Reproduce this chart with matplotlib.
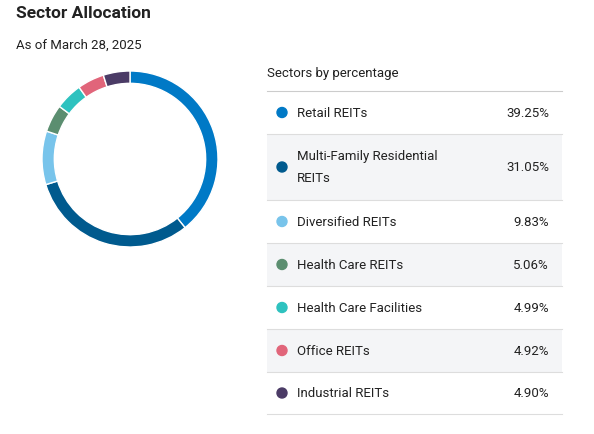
import matplotlib
matplotlib.use("Agg")
import matplotlib.pyplot as plt
from matplotlib.patches import Rectangle, Circle

plt.rcParams['font.family'] = ['Roboto', 'DejaVu Sans']

sectors = ["Retail REITs", "Multi-Family Residential\nREITs", "Diversified REITs",
           "Health Care REITs", "Health Care Facilities", "Office REITs", "Industrial REITs"]
values = [39.25, 31.05, 9.83, 5.06, 4.99, 4.92, 4.90]
labels = ["39.25%", "31.05%", "9.83%", "5.06%", "4.99%", "4.92%", "4.90%"]
colors = ["#0079C6", "#005A8E", "#78C4EB", "#5B8E70", "#2EC2BF", "#E1657A", "#4B3B66"]

W, H = 594, 435
fig = plt.figure(figsize=(W/100, H/100), dpi=100)
ax = fig.add_axes([0, 0, 1, 1])
ax.set_xlim(0, W); ax.set_ylim(H, 0); ax.axis('off')

ax.text(16, 14, "Sector Allocation", fontsize=12.5, fontweight='bold', color='#222', va='center')
ax.text(16, 45, "As of March 28, 2025", fontsize=9.5, color='#222', va='center')
ax.text(267, 73, "Sectors by percentage", fontsize=9.5, color='#222', va='center')

bounds = [92, 135, 201, 244, 287, 330, 373, 415]
ax.plot([267, 562], [bounds[0], bounds[0]], color='#cccccc', lw=0.8)
for i in range(len(sectors)):
    y0, y1 = bounds[i], bounds[i+1]
    if i % 2 == 1:
        ax.add_patch(Rectangle((267, y0), 295, y1-y0, color='#F4F5F7', lw=0))
    ax.plot([267, 562], [y1, y1], color='#dddddd', lw=0.8)
    yc = (y0 + y1) / 2
    ax.add_patch(Circle((282, yc), 5, color=colors[i]))
    ax.text(297, yc, sectors[i], fontsize=9.5, color='#222', va='center', linespacing=1.9)
    ax.text(549, yc, labels[i], fontsize=9.5, color='#222', va='center', ha='right')

pax = fig.add_axes([42/W, (H-248)/H, 176/W, 176/H])
pax.pie(values, colors=colors, startangle=90, counterclock=False,
        wedgeprops=dict(width=0.14, edgecolor='white', linewidth=1.0))
pax.set_xlim(-1, 1); pax.set_ylim(-1, 1)
pax.set_aspect('equal')

fig.savefig("out.png", dpi=100)
